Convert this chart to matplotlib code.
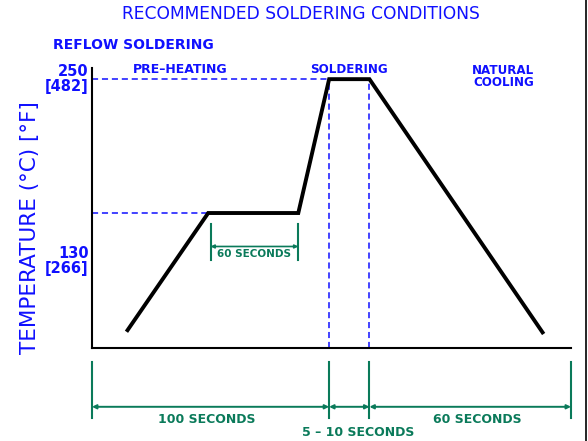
import matplotlib
matplotlib.use("Agg")
import matplotlib.pyplot as plt
from matplotlib.lines import Line2D
import matplotlib.transforms as mtransforms

# ---- data (schematic profile) ----
time_s = [15, 49, 87, 100, 117, 190]          # seconds (schematic)
temp_c = [25, 130, 130, 250, 250, 23]          # degrees C
preheat_temp = 130
solder_temp = 250
ytick_vals = [250, 130]
ytick_labels = ["250\n[482]", "130\n[266]"]
zone_bounds = [0, 100, 117, 202]               # dimension boundaries
zone_labels = ["100 SECONDS", "5 \u2013 10 SECONDS", "60 SECONDS"]
hold_bounds = [50, 87]
hold_label = "60 SECONDS"

BLUE = "#1010ff"
GREEN = "#0a7a5a"

plt.rcParams['font.family'] = ['DejaVu Sans']

fig = plt.figure(figsize=(5.88, 4.41), dpi=100)
ax = fig.add_axes([92/588, 1-348/441, (571-92)/588, (348-68)/441])
ax.set_xlim(0, 202)
ax.set_ylim(9, 260)
for s in ["top", "right"]:
    ax.spines[s].set_visible(False)
ax.spines["left"].set_linewidth(1.5)
ax.spines["bottom"].set_linewidth(1.5)
ax.set_xticks([])
ax.set_yticks([])

dash = (0, (4, 2.5))
# guide lines
ax.plot([0, time_s[3]], [solder_temp, solder_temp], ls=dash, color=BLUE, lw=1.1)
ax.plot([0, time_s[1]], [preheat_temp, preheat_temp], ls=dash, color=BLUE, lw=1.1)
ax.plot([time_s[3], time_s[3]], [9, solder_temp], ls=dash, color=BLUE, lw=1.1)
ax.plot([time_s[4], time_s[4]], [9, solder_temp], ls=dash, color=BLUE, lw=1.1)

# profile
ax.plot(time_s, temp_c, color="black", lw=2.8, solid_joinstyle="miter", zorder=5)

# y tick labels
for v, lab in zip(ytick_vals, ytick_labels):
    yy = v if v == 250 else v - 43
    ax.text(-1.5, yy, lab, ha="right", va="center", color=BLUE, fontsize=10.5,
            fontweight="bold", linespacing=1.0)

fig.text(30/588, 1-228/441, "TEMPERATURE (\u00b0C) [\u00b0F]",
         rotation=90, ha="center", va="center", color=BLUE, fontsize=15.5)

# zone labels
ax.text(37, 252.5, "PRE\u2013HEATING", color=BLUE, fontsize=9, fontweight="bold", ha="center", va="bottom")
ax.text(108.5, 252.5, "SOLDERING", color=BLUE, fontsize=8.6, fontweight="bold", ha="center", va="bottom")
ax.text(173.5, 264, "NATURAL\nCOOLING", color=BLUE, fontsize=8.6, fontweight="bold", ha="center", va="top",
        linespacing=0.95)

fig.text(301/588, 1-14/441, "RECOMMENDED SOLDERING CONDITIONS", color=BLUE, fontsize=12.3,
         ha="center", va="center")
fig.text(53/588, 1-45/441, "REFLOW SOLDERING", color=BLUE, fontsize=10, fontweight="bold",
         ha="left", va="center")

# bottom dimension
trans = mtransforms.blended_transform_factory(ax.transData, ax.transAxes)
for b in zone_bounds:
    ax.plot([b, b], [-0.05, -0.25], color=GREEN, lw=1.5, transform=trans, clip_on=False)
for a, b in zip(zone_bounds[:-1], zone_bounds[1:]):
    ax.annotate("", xy=(a, -0.21), xytext=(b, -0.21), xycoords=trans, textcoords=trans,
                arrowprops=dict(arrowstyle="<|-|>", color=GREEN, lw=1.4, mutation_scale=6,
                                shrinkA=0, shrinkB=0))
label_x = [48.5, 112.2, 162.4]
label_y = [-0.257, -0.303, -0.257]
for lx, ly, lab in zip(label_x, label_y, zone_labels):
    ax.text(lx, ly, lab, transform=trans, color=GREEN, fontsize=9,
            fontweight="bold", ha="center", va="center")

# hold dimension
for b in hold_bounds:
    ax.plot([b, b], [preheat_temp - 10, preheat_temp - 42], color=GREEN, lw=1.5)
ax.annotate("", xy=(hold_bounds[0], preheat_temp - 30), xytext=(hold_bounds[1], preheat_temp - 30),
            arrowprops=dict(arrowstyle="<|-|>", color=GREEN, lw=1.2, mutation_scale=5,
                            shrinkA=0, shrinkB=0))
ax.text(sum(hold_bounds) / 2, preheat_temp - 37, hold_label, color=GREEN, fontsize=7.5,
        fontweight="bold", ha="center", va="center")

# right border line
fig.add_artist(Line2D([586/588, 586/588], [0, 1], color="black", lw=1.2, transform=fig.transFigure))

fig.savefig("out.png", dpi=100)
